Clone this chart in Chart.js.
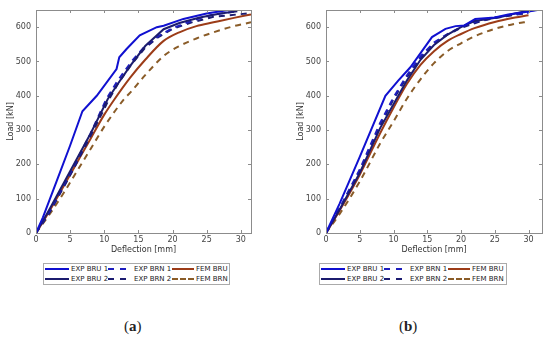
<!DOCTYPE html>
<html>
<head>
<meta charset="utf-8">
<script src="https://cdn.jsdelivr.net/npm/chart.js@4.4.0/dist/chart.umd.min.js"></script>
<style>
body { margin:0; width:550px; height:342px; background:#fff; position:relative; overflow:hidden; font-family:"DejaVu Sans", sans-serif; }
canvas { position:absolute; }
#chartA { left:0; top:0; }
#chartB { left:290px; top:0; }
.legend { position:absolute; top:263px; height:20px; border:1px solid #aaa; background:#fff; }
.item { position:absolute; height:10px; font-size:7px; color:#222; line-height:10px; white-space:nowrap; }
.item span.sw { position:absolute; top:4px; height:0; }
.item span.tx { position:absolute; top:0; }
.cap { position:absolute; top:318px; font-family:"Liberation Serif", serif; font-size:15px; color:#222; }
</style>
</head>
<body>
<canvas id="chartA" width="275" height="258"></canvas>
<canvas id="chartB" width="260" height="258"></canvas>
<div class="legend" id="legA" style="left:43px;width:185px;"></div>
<div class="legend" id="legB" style="left:319px;width:186px;"></div>
<div class="cap" style="left:124px;">(<b>a</b>)</div>
<div class="cap" style="left:399px;">(<b>b</b>)</div>
<script>
// names, tick values
var seriesNames = ["EXP BRU 1", "EXP BRU 2", "EXP BRN 1", "EXP BRN 2", "FEM BRU", "FEM BRN"];
var xTicks = [0, 5, 10, 15, 20, 25, 30];
var yTicks = [0, 100, 200, 300, 400, 500, 600];

// (a): [deflection mm, load kN]
var aExpBru1 = [[0,0],[1,45],[3,150],[5,255],[6.8,355],[8.9,400],[11.8,478],[12.2,512],[13.3,537],[15.2,576],[17.7,600],[18.7,604],[21.6,624],[25,640],[28.9,652],[29.3,650]];
var aExpBru2 = [[0,0],[2,70],[5,180],[8,290],[10.5,390],[12,435],[13.8,487],[16,545],[18.7,594],[21,612],[24,628],[27,640],[29.5,646]];
var aExpBrn1 = [[0,0],[2,65],[5,175],[8,290],[10.3,390],[12,445],[14,500],[16,545],[18,575],[20,597],[23,620],[26,637],[29,645]];
var aExpBrn2 = [[0,0],[2,60],[5,168],[8,283],[10.7,390],[12,435],[14,492],[16,540],[18,572],[20,595],[23,615],[26,630],[31,640]];
var aFemBru = [[0,0],[2,65],[4,135],[6,205],[8,275],[10,345],[11.5,390],[13.8,453],[16,505],[18.7,560],[21,585],[23.5,603],[26,614],[29,627],[31.5,637]];
var aFemBrn = [[0,0],[2,55],[4,115],[6,180],[8,245],[10,310],[12.9,390],[13.8,409],[16,460],[18.7,516],[21,545],[23.5,567],[26,585],[29,603],[31.5,614]];

// (b)
var bExpBru1 = [[0,0],[2,85],[5,222],[8.8,400],[10.7,444],[12.5,483],[15.7,571],[17.7,595],[19.2,603],[20.5,605],[22.1,624],[25,628],[27,637],[29.8,645],[32,652]];
var bExpBru2 = [[0,0],[2,68],[5,175],[8,305],[10,375],[12,445],[14,505],[16,548],[18,578],[20,600],[22,618],[24,624],[26,630],[28,640],[30,648],[32,652]];
var bExpBrn1 = [[0,0],[2,72],[5,185],[8,320],[10,395],[12,460],[14,515],[16,555],[18,580],[20,600],[22,615],[25,628],[28,637],[30,642]];
var bExpBrn2 = [[0,0],[2,70],[5,180],[8,312],[10,390],[12,455],[14,510],[16,552],[18,578],[20,598],[23,618],[26,630],[29.5,640]];
var bFemBru = [[0,0],[2,65],[5,170],[8,290],[10,365],[12,435],[14,490],[16,530],[18,560],[20,580],[22,597],[25,615],[28,628],[30,635]];
var bFemBrn = [[0,0],[2,55],[5,150],[8,260],[10,325],[12,392],[14,448],[16,495],[18,530],[20,553],[22,573],[25,595],[28,610],[30,616]];

var colors = ["#1010d0", "#1c1c6e", "#1e1ec0", "#1c1c70", "#9c3c18", "#8a5c28"];
var dashed = [false, false, true, true, false, true];

function toPts(arr){
  return arr.map(function(p){ return {x:p[0], y:p[1]}; });
}

var boxPlugin = {
  id: "box",
  afterDraw: function(chart){
    var ctx = chart.ctx, a = chart.chartArea;
    var sx = chart.scales.x, sy = chart.scales.y;
    ctx.save();
    ctx.strokeStyle = "#8c8c8c";
    ctx.lineWidth = 1;
    ctx.strokeRect(Math.round(a.left)+0.5, Math.round(a.top)+0.5, Math.round(a.right-a.left), Math.round(a.bottom-a.top));
    ctx.beginPath();
    sx.ticks.forEach(function(t){
      var px = Math.round(sx.getPixelForValue(t.value))+0.5;
      ctx.moveTo(px, a.bottom); ctx.lineTo(px, a.bottom-3);
      ctx.moveTo(px, a.top); ctx.lineTo(px, a.top+3);
    });
    sy.ticks.forEach(function(t){
      var py = Math.round(sy.getPixelForValue(t.value))+0.5;
      ctx.moveTo(a.left, py); ctx.lineTo(a.left+3, py);
      ctx.moveTo(a.right, py); ctx.lineTo(a.right-3, py);
    });
    ctx.stroke();
    ctx.restore();
  }
};

function makeChart(id, sets, xMax, padRight){
  var ds = [];
  sets.forEach(function(arr, i){
    ds.push({
      label: seriesNames[i],
      data: toPts(arr),
      borderColor: colors[i],
      borderWidth: 2,
      borderDash: dashed[i] ? [6,5] : [],
      pointRadius: 0,
      fill: false,
      tension: 0,
      cubicInterpolationMode: i >= 4 ? "monotone" : "default"
    });
  });
  return new Chart(document.getElementById(id), {
    type: "line",
    data: { datasets: ds },
    options: {
      responsive: false,
      animation: false,
      layout: { padding: { top: 10, right: padRight, left: 0, bottom: 0 } },
      plugins: { legend: { display: false }, tooltip: { enabled: false } },
      scales: {
        x: {
          type: "linear", min: 0, max: xMax,
          afterBuildTicks: function(s){ s.ticks = xTicks.map(function(v){ return {value:v}; }); },
          afterFit: function(s){ s.height = 25; },
          grid: { display: false, drawTicks: false },
          border: { display: false },
          ticks: { padding: 2, color: "#444", font: { size: 8, family: "DejaVu Sans" }, maxRotation: 0 },
          title: { display: true, text: "Deflection [mm]", color: "#333", padding: { top: 0, bottom: 3 }, font: { size: 8, family: "DejaVu Sans" } }
        },
        y: {
          type: "linear", min: 0, max: 650,
          afterBuildTicks: function(s){ s.ticks = yTicks.map(function(v){ return {value:v}; }); },
          afterFit: function(s){ s.width = 36; },
          grid: { display: false, drawTicks: false },
          border: { display: false },
          ticks: { padding: 5, color: "#444", font: { size: 8, family: "DejaVu Sans" } },
          title: { display: true, text: "Load [kN]", color: "#333", padding: { top: 6, bottom: 0 }, font: { size: 8, family: "DejaVu Sans" } }
        }
      }
    },
    plugins: [boxPlugin]
  });
}

makeChart("chartA", [aExpBru1, aExpBru2, aExpBrn1, aExpBrn2, aFemBru, aFemBrn], 31.5, 24);
makeChart("chartB", [bExpBru1, bExpBru2, bExpBrn1, bExpBrn2, bFemBru, bFemBrn], 32, 8);

// legends: two rows, three columns (column-major like the original)
var colX = [[1, 27], [64, 90], [128, 152]];
var swW = [24, 18, 22];
function buildLegend(id){
  var box = document.getElementById(id);
  seriesNames.forEach(function(name, i){
    var col = Math.floor(i/2), row = i%2;
    var it = document.createElement("div");
    it.className = "item";
    it.style.left = colX[col][0] + "px";
    it.style.top = (row*10 + 0) + "px";
    var sw = document.createElement("span");
    sw.className = "sw";
    sw.style.left = "0px";
    sw.style.width = swW[col] + "px";
    sw.style.borderTop = "2px " + (dashed[i] ? "dashed " : "solid ") + colors[i];
    var tx = document.createElement("span");
    tx.className = "tx";
    tx.style.left = (colX[col][1]-colX[col][0]) + "px";
    tx.textContent = name;
    it.appendChild(sw); it.appendChild(tx);
    box.appendChild(it);
  });
}
buildLegend("legA");
buildLegend("legB");
</script>
</body>
</html>
